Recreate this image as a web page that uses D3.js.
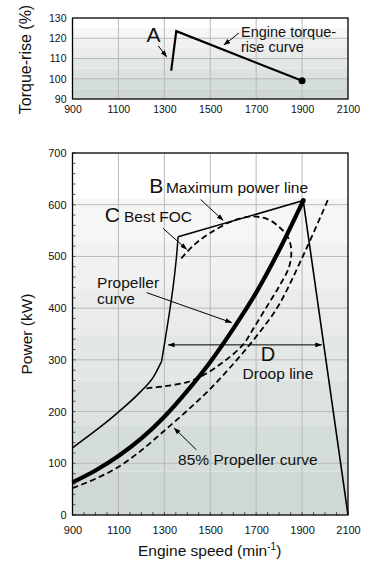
<!DOCTYPE html>
<html><head><meta charset="utf-8">
<script src="https://cdn.jsdelivr.net/npm/d3@7"></script>
<style>
html,body{margin:0;padding:0;background:#fff;}
svg{display:block;font-family:"Liberation Sans",Arial,Helvetica,sans-serif;}
</style></head>
<body><svg id="c" width="380" height="563"></svg>
<script>
// ---------- data ----------
const speedTicks = [900, 1100, 1300, 1500, 1700, 1900, 2100];
const torqueTicks = [90, 100, 110, 120, 130];
const powerTicks = [0, 100, 200, 300, 400, 500, 600, 700];
const torqueBands = [125, 120, 115, 110, 105, 100, 95, 90];
const powerBands = [612, 524, 437, 348, 260, 172, 84, 0];
const bandColors = ["#f6f6f5", "#f0f1f0", "#e9ecea", "#e3e7e5", "#dce2df", "#d5ddda", "#cfd8d5"];

const torqueCurve = [[1330, 104], [1352, 123.5], [1900, 99]];
const torqueEnd = [1900, 99];

const maxPowerLow = [[900, 130], [1000, 163], [1100, 199], [1200, 240], [1250, 265], [1288, 297]];
const maxPowerKnee = [[1288, 297], [1302, 335], [1320, 385], [1338, 440], [1352, 495], [1360, 538]];
const maxPowerLine = [[1360, 538], [1905, 608], [2100, 0]];
const propellerCurve = [[900, 63], [1000, 86], [1100, 114], [1200, 148], [1300, 190], [1400, 240], [1500, 296], [1600, 360], [1700, 430], [1800, 512], [1905, 608]];
const propeller85 = [[900, 52], [1000, 70], [1100, 93], [1200, 125], [1300, 163], [1400, 202], [1500, 244], [1600, 292], [1700, 345], [1800, 407], [1900, 497], [2014, 611]];
const bestFocCurve = [[1222, 245], [1300, 249], [1400, 257], [1477, 272], [1560, 297], [1640, 328], [1690, 362], [1745, 402], [1800, 442], [1842, 478], [1853, 505], [1848, 526], [1830, 543], [1800, 557], [1760, 570], [1717, 576], [1673, 577], [1600, 569], [1498, 545], [1426, 521], [1368, 493]];
const droopArrow = [[1317, 329], [1985, 329]];

// ---------- layout ----------
const svg = d3.select("#c");
const L = 72.5, R = 348;
const topT = 18, topB = 99;
const botT = 153, botB = 515;

const x = d3.scaleLinear().domain([900, 2100]).range([L, R]);
const yT = d3.scaleLinear().domain([90, 130]).range([topB, topT]);
const yP = d3.scaleLinear().domain([0, 700]).range([botB, botT]);

const defs = svg.append("defs");
defs.append("marker").attr("id", "ah").attr("viewBox", "0 0 10 10").attr("refX", 9).attr("refY", 5)
  .attr("markerWidth", 7).attr("markerHeight", 7).attr("markerUnits", "userSpaceOnUse").attr("orient", "auto-start-reverse")
  .append("path").attr("d", "M0,1.5 L10,5 L0,8.5 Z").attr("fill", "#000");

function panel(yS, bands, yTicks, tickFs, minor) {
  const g = svg.append("g");
  const [y0, y1] = yS.range(); // bottom, top
  g.append("rect").attr("x", L).attr("y", y1).attr("width", R - L).attr("height", y0 - y1).attr("fill", "#fff");
  for (let i = 0; i < bands.length - 1; i++) {
    g.append("rect").attr("x", L).attr("width", R - L)
      .attr("y", yS(bands[i])).attr("height", yS(bands[i + 1]) - yS(bands[i]))
      .attr("fill", bandColors[i]);
  }
  g.selectAll(".gv").data(speedTicks.slice(1, -1)).join("line")
    .attr("x1", d => x(d)).attr("x2", d => x(d)).attr("y1", y1).attr("y2", y0)
    .attr("stroke", "#b9b9b9").attr("stroke-width", 1);
  g.selectAll(".gh").data(yTicks.slice(1, -1)).join("line")
    .attr("y1", d => yS(d)).attr("y2", d => yS(d)).attr("x1", L).attr("x2", R)
    .attr("stroke", "#b9b9b9").attr("stroke-width", 1);
  const ax = d3.axisBottom(x).tickValues(speedTicks).tickSize(0).tickPadding(tickFs === 11 ? 11 : 7).tickFormat(d3.format("d"));
  const axG = g.append("g").attr("transform", `translate(0,${y0})`).call(ax);
  const ay = d3.axisLeft(yS).tickValues(yTicks).tickSize(0).tickPadding(6).tickFormat(d3.format("d"));
  const ayG = g.append("g").attr("transform", `translate(${L},0)`).call(ay);
  [axG, ayG].forEach(a => {
    a.select(".domain").remove();
    a.selectAll("text").attr("font-size", tickFs).attr("fill", "#111").attr("font-family", "Liberation Sans, Arial, sans-serif");
  });
  if (minor) {
    const mx = d3.range(900, 2101, 50);
    g.selectAll(".mx").data(mx).join("line").attr("x1", d => x(d)).attr("x2", d => x(d))
      .attr("y1", y0).attr("y2", y0 - 3).attr("stroke", "#333").attr("stroke-width", 0.8);
    const my = d3.range(0, 701, 20);
    g.selectAll(".my").data(my).join("line").attr("y1", d => yS(d)).attr("y2", d => yS(d))
      .attr("x1", L).attr("x2", L + 3).attr("stroke", "#333").attr("stroke-width", 0.8);
  }
  g.append("rect").attr("x", L).attr("y", y1).attr("width", R - L).attr("height", y0 - y1)
    .attr("fill", "none").attr("stroke", "#000").attr("stroke-width", 1.3);
  return g;
}

// ---------- top panel ----------
panel(yT, torqueBands, torqueTicks, 10.5, false);
const lineT = d3.line().x(d => x(d[0])).y(d => yT(d[1]));
svg.append("path").attr("d", lineT(torqueCurve)).attr("fill", "none").attr("stroke", "#000").attr("stroke-width", 2.2).attr("stroke-linejoin", "miter");
svg.append("circle").attr("cx", x(torqueEnd[0])).attr("cy", yT(torqueEnd[1])).attr("r", 3.5).attr("fill", "#000");

function txt(t, px, py, fs, anchor) {
  return svg.append("text").attr("x", px).attr("y", py).attr("font-size", fs).attr("fill", "#111")
    .attr("text-anchor", anchor || "start").text(t);
}
function arrow(p0, p1, yS) {
  svg.append("line").attr("x1", x(p0[0])).attr("y1", yS(p0[1])).attr("x2", x(p1[0])).attr("y2", yS(p1[1]))
    .attr("stroke", "#000").attr("stroke-width", 1).attr("marker-end", "url(#ah)");
}
txt("A", x(1222), yT(118.1), 21);
arrow([1273, 116.3], [1310, 110.9], yT);
txt("Engine torque-", x(1634), yT(120.6), 14.5);
txt("rise curve", x(1634), yT(113.2), 14.5);
arrow([1625, 122.6], [1560, 116.7], yT);

svg.append("text").attr("transform", `translate(31,${(topT + topB) / 2 + 1}) rotate(-90)`)
  .attr("text-anchor", "middle").attr("font-size", 16).attr("fill", "#111").text("Torque-rise (%)");

// ---------- bottom panel ----------
panel(yP, powerBands, powerTicks, 11, true);
const lineP = d3.line().x(d => x(d[0])).y(d => yP(d[1]));
const smooth = d3.line().x(d => x(d[0])).y(d => yP(d[1])).curve(d3.curveCatmullRom.alpha(0.5));
const mono = d3.line().x(d => x(d[0])).y(d => yP(d[1])).curve(d3.curveMonotoneX);

svg.append("path").attr("d", mono(propeller85)).attr("fill", "none").attr("stroke", "#000")
  .attr("stroke-width", 1.8).attr("stroke-dasharray", "6,3.5");
svg.append("path").attr("d", smooth(bestFocCurve)).attr("fill", "none").attr("stroke", "#000")
  .attr("stroke-width", 1.8).attr("stroke-dasharray", "6,3.5");
svg.append("path").attr("d", mono(maxPowerLow)).attr("fill", "none").attr("stroke", "#000").attr("stroke-width", 1.5);
svg.append("path").attr("d", smooth(maxPowerKnee)).attr("fill", "none").attr("stroke", "#000").attr("stroke-width", 1.5);
svg.append("path").attr("d", lineP(maxPowerLine)).attr("fill", "none").attr("stroke", "#000").attr("stroke-width", 1.6).attr("stroke-linejoin", "miter");
svg.append("path").attr("d", mono(propellerCurve)).attr("fill", "none").attr("stroke", "#000").attr("stroke-width", 4.2);
svg.append("circle").attr("cx", x(1905)).attr("cy", yP(608)).attr("r", 2.5).attr("fill", "#000");

svg.append("line").attr("x1", x(droopArrow[0][0])).attr("x2", x(droopArrow[1][0]))
  .attr("y1", yP(droopArrow[0][1])).attr("y2", yP(droopArrow[1][1]))
  .attr("stroke", "#000").attr("stroke-width", 1).attr("marker-start", "url(#ah)").attr("marker-end", "url(#ah)");

txt("B", x(1234), yP(623), 21);
txt("Maximum power line", x(1307), yP(623), 15.5);
arrow([1458, 610], [1556, 570], yP);
txt("C", x(1041), yP(567), 21);
txt("Best FOC", x(1124), yP(567), 15.5);
arrow([1295, 554], [1397, 514], yP);
txt("Propeller", x(1007), yP(439), 15.5);
txt("curve", x(1007), yP(408), 15.5);
arrow([1223, 430], [1593, 372], yP);
txt("D", x(1751), yP(298), 20, "middle");
txt("Droop line", x(1641), yP(263), 15.5);
txt("85% Propeller curve", x(1360), yP(97), 15.5);
arrow([1440, 126], [1343, 168], yP);

svg.append("text").attr("transform", `translate(32,334) rotate(-90)`)
  .attr("text-anchor", "middle").attr("font-size", 15.5).attr("fill", "#111").text("Power (kW)");

const xt = svg.append("text").attr("x", 138).attr("y", 556).attr("font-size", 15.5).attr("fill", "#111");
xt.append("tspan").text("Engine speed (min");
xt.append("tspan").attr("font-size", 10).attr("dy", -6).text("-1");
xt.append("tspan").attr("dy", 6).text(")");
</script></body></html>
